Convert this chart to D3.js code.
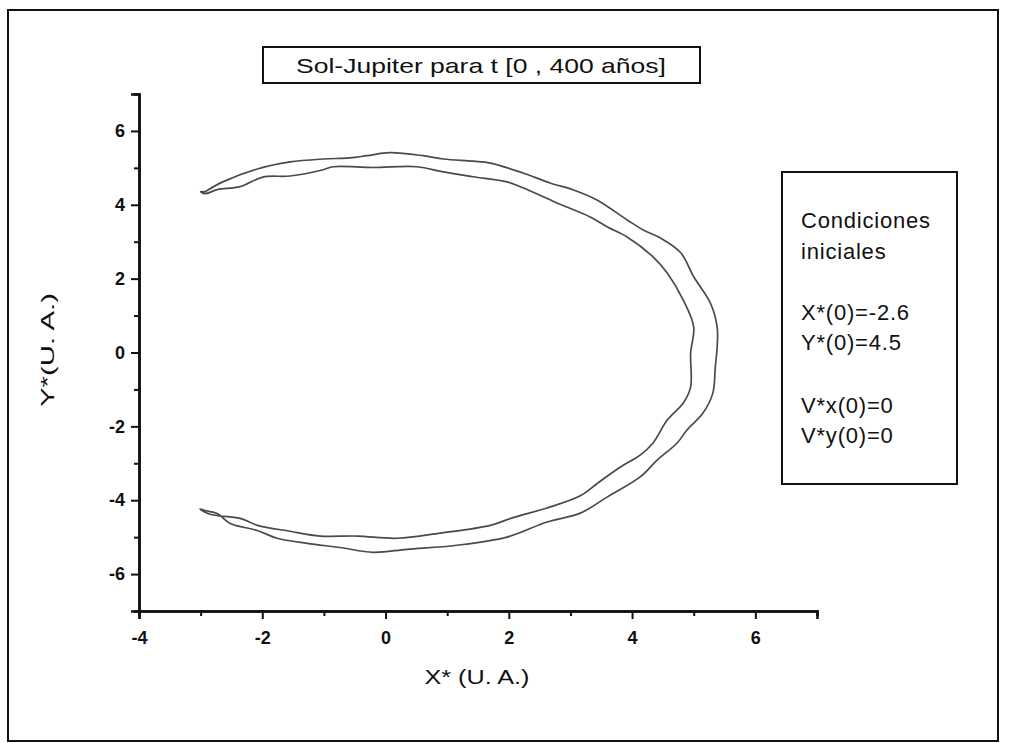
<!DOCTYPE html>
<html>
<head>
<meta charset="utf-8">
<script src="https://cdn.jsdelivr.net/npm/d3@7"></script>
<style>
  body { margin: 0; background: #fff; }
  svg { display: block; }
  text { font-family: "Liberation Sans", Arial, sans-serif; fill: #111; }
</style>
</head>
<body>
<svg id="chart" width="1010" height="743"></svg>
<script>
// ---- données (U.A.) ----
// trajet extérieur : du bout en haut à gauche, dans le sens horaire
let outerX = [-2.93, -2.64, -2.08, -1.55, -1.01, -0.58, -0.30, 0.07, 0.61, 0.94, 1.42, 1.70, 2.23, 2.67, 3.05, 3.43,
  3.92, 4.18, 4.46, 4.79, 5.00, 5.27, 5.38, 5.38, 5.35, 5.31, 5.15, 4.89, 4.73, 4.41, 4.13, 3.60, 3.16, 2.62,
  1.97, 1.16, 0.35, -0.20, -0.74, -1.27, -1.76, -2.08, -2.52, -2.73, -2.93, -3.01];
let outerY = [4.35, 4.62, 4.97, 5.16, 5.24, 5.27, 5.33, 5.41, 5.33, 5.24, 5.18, 5.13, 4.86, 4.59, 4.40, 4.13,
  3.59, 3.32, 3.10, 2.70, 2.05, 1.34, 0.69, 0.15, -0.39, -1.10, -1.64, -2.10, -2.45, -2.91, -3.37, -3.91, -4.35, -4.59,
  -5.00, -5.22, -5.33, -5.41, -5.28, -5.17, -5.03, -4.82, -4.63, -4.36, -4.28, -4.24];

// trajet intérieur : du bout en bas à gauche, retour vers le haut
let innerX = [-2.85, -2.36, -2.08, -1.55, -1.06, -0.46, 0.19, 0.89, 1.70, 2.07, 2.62, 3.16, 3.44, 3.81, 4.13, 4.34,
  4.57, 4.83, 4.95, 4.95, 5.00, 4.83, 4.57, 4.34, 3.92, 3.60, 3.32, 2.78, 2.23, 1.97, 1.42, 0.94, 0.51, -0.20,
  -0.85, -1.01, -1.55, -1.99, -2.36, -2.73, -2.93, -3.00, -2.93];
let innerY = [-4.38, -4.49, -4.68, -4.84, -4.97, -4.97, -5.03, -4.89, -4.68, -4.47, -4.21, -3.88, -3.54, -3.10, -2.78, -2.45,
  -1.83, -1.37, -0.93, -0.01, 0.69, 1.42, 2.15, 2.59, 3.13, 3.40, 3.67, 4.05, 4.46, 4.62, 4.76, 4.89, 5.03, 5.01,
  5.03, 4.95, 4.78, 4.75, 4.49, 4.41, 4.30, 4.36, 4.35];

let xMajor = [-4, -2, 0, 2, 4, 6];
let xMinor = [-3, -1, 1, 3, 5, 7];
let yMajor = [-6, -4, -2, 0, 2, 4, 6];
let yMinor = [-5, -3, -1, 1, 3, 5];

let titre = "Sol-Jupiter para t [0 , 400 años]";
let legende = ["Condiciones", "iniciales", "", "X*(0)=-2.6", "Y*(0)=4.5", "", "V*x(0)=0", "V*y(0)=0"];

// ---- dessin ----
let svg = d3.select("#chart");

// cadre extérieur
svg.append("rect")
  .attr("x", 8).attr("y", 10).attr("width", 990).attr("height", 731)
  .attr("fill", "none").attr("stroke", "#111").attr("stroke-width", 2);

let x = d3.scaleLinear().domain([-4, 7]).range([139, 817]);
let y = d3.scaleLinear().domain([-7, 7]).range([611, 94]);

// axes (ticks vers l'extérieur)
svg.append("g").attr("transform", "translate(0,611)")
  .call(d3.axisBottom(x).tickValues(xMajor).tickSize(8).tickPadding(12).tickFormat(d3.format("d")));
svg.append("g").attr("transform", "translate(0,611)")
  .call(d3.axisBottom(x).tickValues(xMinor).tickSize(5).tickFormat(""));

svg.append("g").attr("transform", "translate(139,0)")
  .call(d3.axisLeft(y).tickValues(yMajor).tickSize(8).tickPadding(6).tickFormat(d3.format("d")));
svg.append("g").attr("transform", "translate(139,0)")
  .call(d3.axisLeft(y).tickValues(yMinor).tickSize(5).tickFormat(""));

svg.selectAll(".domain").attr("stroke", "#111").attr("stroke-width", 2.5);
svg.selectAll(".tick line").attr("stroke", "#111").attr("stroke-width", 2);
// d3 met un "−" unicode : on garde le trait d'union comme l'original
svg.selectAll(".tick text")
  .attr("font-family", "'Liberation Sans', Arial, sans-serif")
  .attr("font-size", 18)
  .attr("font-weight", "bold")
  .attr("fill", "#111")
  .text(function () { return this.textContent.replace("−", "-"); });

// trajectoire
let line = d3.line()
  .x(d => x(d[0]))
  .y(d => y(d[1]))
  .curve(d3.curveCatmullRom.alpha(0.5));

let pts = outerX.map((v, i) => [v, outerY[i]])
  .concat(innerX.map((v, i) => [v, innerY[i]]));

svg.append("path")
  .attr("d", line(pts))
  .attr("fill", "none")
  .attr("stroke", "#4a4a4a")
  .attr("stroke-width", 1.7);

// titres des axes
svg.append("text")
  .attr("x", 477).attr("y", 684)
  .attr("text-anchor", "middle")
  .attr("font-size", 21)
  .attr("textLength", 105).attr("lengthAdjust", "spacingAndGlyphs")
  .text("X* (U. A.)");

svg.append("text")
  .attr("transform", "translate(54,350) rotate(-90)")
  .attr("text-anchor", "middle")
  .attr("font-size", 19)
  .attr("textLength", 114).attr("lengthAdjust", "spacingAndGlyphs")
  .text("Y*(U. A.)");

// boîte du titre
svg.append("rect")
  .attr("x", 263).attr("y", 47).attr("width", 437).attr("height", 36)
  .attr("fill", "#fff").attr("stroke", "#111").attr("stroke-width", 2);
svg.append("text")
  .attr("x", 481).attr("y", 73)
  .attr("text-anchor", "middle")
  .attr("font-size", 21)
  .attr("textLength", 370).attr("lengthAdjust", "spacingAndGlyphs")
  .text(titre);

// boîte des conditions initiales
svg.append("rect")
  .attr("x", 782).attr("y", 172).attr("width", 175).attr("height", 312)
  .attr("fill", "#fff").attr("stroke", "#111").attr("stroke-width", 2);

let baselines = [228, 259, 0, 320, 350, 0, 413, 443];
legende.forEach((t, i) => {
  if (!t) return;
  svg.append("text")
    .attr("x", 801).attr("y", baselines[i])
    .attr("font-size", 22)
    .attr("letter-spacing", 0.8)
    .text(t);
});
</script>
</body>
</html>
